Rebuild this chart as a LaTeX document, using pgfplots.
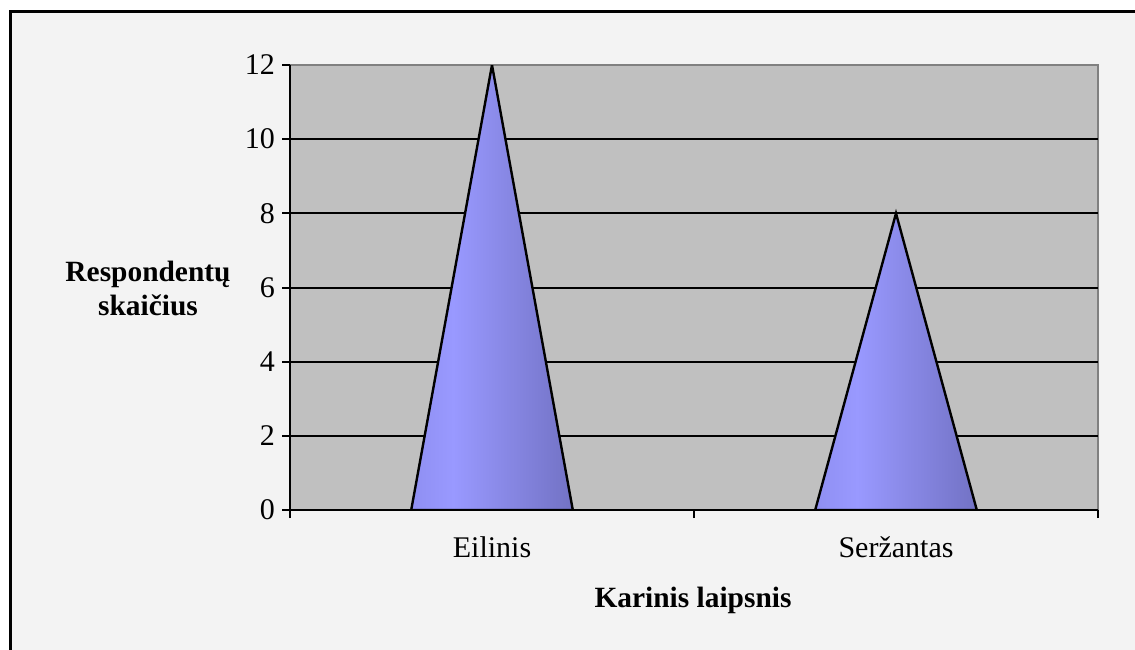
\documentclass[border=0pt]{standalone}
\usepackage{fontspec}
\setmainfont{Liberation Serif}
\usepackage{pgfplots}
\pgfplotsset{compat=1.18}
\definecolor{frameBg}{RGB}{243,243,243}
\definecolor{plotBg}{RGB}{192,192,192}
\definecolor{borderGray}{RGB}{128,128,128}
\definecolor{coneA}{RGB}{143,143,242}
\definecolor{coneB}{RGB}{153,153,255}
\definecolor{coneC}{RGB}{114,114,196}
\pgfdeclarehorizontalshading{cone}{100bp}{color(0bp)=(coneA); color(25bp)=(coneA); color(38bp)=(coneB); color(75bp)=(coneC); color(100bp)=(coneC)}

\begin{document}
\begin{tikzpicture}[x=0.5pt,y=0.5pt]
  % picture is 1135 x 649 px, one px = 0.5pt
  \useasboundingbox (0,0) rectangle (1135,649);
  \fill[white] (0,0) rectangle (1135,649);
  \draw[line width=1.5pt, fill=frameBg] (10,-20) rectangle (1160,637);

  \begin{axis}[
      at={(145pt,69.5pt)}, anchor=south west,
      scale only axis,
      width=404pt, height=222.5pt,
      xmin=0, xmax=2,
      ymin=0, ymax=12,
      axis x line*=bottom, axis y line*=left,
      axis line style={line width=1.2pt, black, -},
      axis background/.style={fill=plotBg, draw=borderGray, line width=1.2pt},
      xtick={0,1,2}, xticklabels={},
      extra x ticks={0.5,1.5},
      extra x tick labels={Eilinis,Seržantas},
      extra x tick style={major tick length=0pt, xticklabel style={yshift=-10pt}},
      ytick={0,2,...,10},
      extra y ticks={12},
      extra y tick style={grid=none},
      ymajorgrids,
      grid style={black, line width=1pt},
      tick align=outside,
      major tick length=4pt,
      tick style={black, line width=1pt},
      ticklabel style={font=\fontsize{15}{17}\selectfont},
      /pgf/number format/assume math mode=true,
    ]
    \addplot[draw=black, line width=1.2pt, shade, shading=cone] coordinates {(0.3,0) (0.5,12) (0.7,0)} \closedcycle;
    \addplot[draw=black, line width=1.2pt, shade, shading=cone] coordinates {(1.3,0) (1.5,8) (1.7,0)} \closedcycle;
  \end{axis}

  \node[font=\fontsize{14.7}{17}\selectfont\bfseries, align=center] at (148,361) {Respondentų\\skaičius};
  \node[font=\fontsize{14.7}{17}\selectfont\bfseries] at (693,49) {Karinis laipsnis};
\end{tikzpicture}
\end{document}
